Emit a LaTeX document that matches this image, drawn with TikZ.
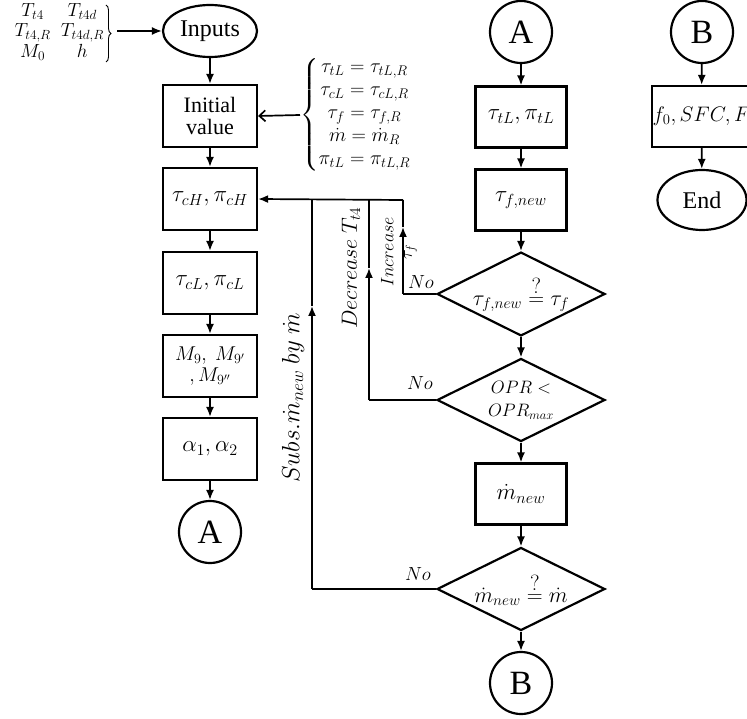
\documentclass[tikz,border=0pt]{standalone}
\usepackage{fix-cm}
\usepackage{amsmath}
\usepackage{fontspec}
\setmainfont{Liberation Serif}
\usetikzlibrary{shapes.geometric,arrows.meta,decorations.pathreplacing}
\newcommand\fsz[1]{\fontsize{#1}{#1}\selectfont\setlength\baselineskip{1.2\baselineskip}}
\newcommand\qeq{\mathrel{\overset{\textstyle ?}{=}}}
\tikzset{
  shp/.style={draw, line width=2.2pt, inner sep=1pt, align=center},
  box/.style={shp, rectangle, minimum width=94pt, minimum height=62pt, font=\fsz{23}},
  rbox/.style={shp, rectangle, minimum width=91pt, minimum height=61pt, font=\fsz{23}},
  oval/.style={shp, ellipse, inner sep=0pt},
  conncirc/.style={shp, circle, minimum size=62pt, inner sep=0pt, font=\fsz{34}},
  dia/.style={shp, diamond, minimum width=168pt, minimum height=83pt, inner sep=0pt, aspect=2},
  conn/.style={line width=1.7pt},
  arr/.style={conn, -{Latex[length=10pt,width=8pt]}},
  openarr/.style={conn, -{Straight Barb[length=6pt,width=11pt]}},
  lbl/.style={inner sep=0pt, font=\fsz{20}},
  nolbl/.style={inner sep=0pt, font=\fsz{19}},
  bracestyle/.style={line width=0.9pt, decorate, decoration={brace, amplitude=5pt}}
}
\begin{document}
\begin{tikzpicture}[x=1pt,y=-1pt]
\useasboundingbox (0,0) rectangle (747,719);
% inputs block
\node[inner sep=0pt, anchor=east, font=\fsz{19}] (vars) at (104,33)
  {$\begin{matrix} T_{t4} & T_{t4d}\\[1.5pt] T_{t4,R} & T_{t4d,R}\\[1.5pt] M_0 & h\end{matrix}$};
\draw[bracestyle] (106,5) -- (106,62);
\node[oval, minimum width=94pt, minimum height=52pt, font=\fsz{24}] (inputs) at (210,31) {Inputs};
\node[box, font=\fsz{22}] (init) at (210,116) {Initial\\[-4pt]value};
\node[inner sep=0pt, anchor=west, font=\fsz{20}] (eqs) at (300,115)
  {$\left\{\begin{matrix} \tau_{tL}=\tau_{tL,R}\\[3pt] \tau_{cL}=\tau_{cL,R}\\[3pt] \tau_{f}=\tau_{f,R}\\[3pt] \dot m=\dot m_{R}\\[3pt] \pi_{tL}=\pi_{tL,R}\end{matrix}\right.$};
\node[box] (cH) at (210,199) {$\tau_{cH},\pi_{cH}$};
\node[box] (cL) at (210,283) {$\tau_{cL},\pi_{cL}$};
\node[box, font=\fsz{20}] (M9) at (210,366) {$M_9,\ M_{9'}$\\[-3pt]$,M_{9''}$};
\node[box] (al) at (210,449) {$\alpha_1,\alpha_2$};
\node[conncirc] (A1) at (210,532) {A};
% middle column
\node[conncirc] (A2) at (521,32) {A};
\node[rbox] (tL) at (521,117) {$\tau_{tL},\pi_{tL}$};
\node[rbox] (tf) at (521,200) {$\tau_{f,new}$};
\node[dia, font=\fsz{22}] (d1) at (521,294) {$\tau_{f,new}\qeq\tau_{f}$};
\node[dia, font=\fsz{18}] (d2) at (521,400) {$OPR<$\\[2pt]$OPR_{max}$};
\node[rbox] (mn) at (521,494) {$\dot m_{new}$};
\node[dia, font=\fsz{22}] (d3) at (521,589) {$\dot m_{new}\qeq\dot m$};
\node[conncirc] (B1) at (521,683) {B};
% right column
\node[conncirc] (B2) at (702,32) {B};
\node[rbox, minimum width=91pt, font=\fsz{21}] (out) at (701.5,116.5) {$f_0,SFC,F$};
\node[oval, minimum width=89pt, minimum height=60pt, font=\fsz{24}] (endn) at (702,200) {End};
% main flow
\coordinate (vb) at (117,31);
\draw[arr] (vb) -- (inputs.west);
\draw[openarr] (eqs.west) -- (init.east);
\draw[arr] (inputs) -- (init);
\draw[arr] (init) -- (cH);
\draw[arr] (cH) -- (cL);
\draw[arr] (cL) -- (M9);
\draw[arr] (M9) -- (al);
\draw[arr] (al) -- (A1);
\draw[arr] (A2) -- (tL);
\draw[arr] (tL) -- (tf);
\draw[arr] (tf) -- (d1);
\draw[arr] (d1) -- (d2);
\draw[arr] (d2) -- (mn);
\draw[arr] (mn) -- (d3);
\draw[arr] (d3) -- (B1);
\draw[arr] (B2) -- (out);
\draw[arr] (out) -- (endn);
% feedback loops
\coordinate (jS) at (312,200);
\coordinate (jD) at (369,200);
\coordinate (jI) at (403,200);
\coordinate (bS) at (312,589);
\coordinate (aS) at (312,306);
\coordinate (bD) at (369,400);
\coordinate (aD) at (369,268);
\coordinate (bI) at (403,294);
\coordinate (aI) at (403,227);
\draw[conn] (d3.west) -- (bS);
\draw[arr] (bS) -- (aS);
\draw[conn] (aS) -- (jS);
\draw[conn] (d2.west) -- (bD);
\draw[arr] (bD) -- (aD);
\draw[conn] (aD) -- (jD);
\draw[conn] (d1.west) -- (bI);
\draw[arr] (bI) -- (aI);
\draw[conn] (aI) -- (jI);
\draw[arr] (jI) -- (cH.east);
% labels
\node[lbl, rotate=90, font=\fsz{25}] (lS) at (293,398) {$Subs.\dot m_{new}\ by\ \dot m$};
\node[lbl, rotate=90, font=\fsz{22}] (lD) at (351,268) {$Decrease\ T_{t4}$};
\node[lbl, rotate=90, font=\fsz{18}, align=center] (lI) at (399,252) {$Increase$\\[-3pt]$\tau_f$};
\node[nolbl] (n1) at (421,282) {$No$};
\node[nolbl] (n2) at (420,383) {$No$};
\node[nolbl] (n3) at (418,574) {$No$};
\end{tikzpicture}
\end{document}
